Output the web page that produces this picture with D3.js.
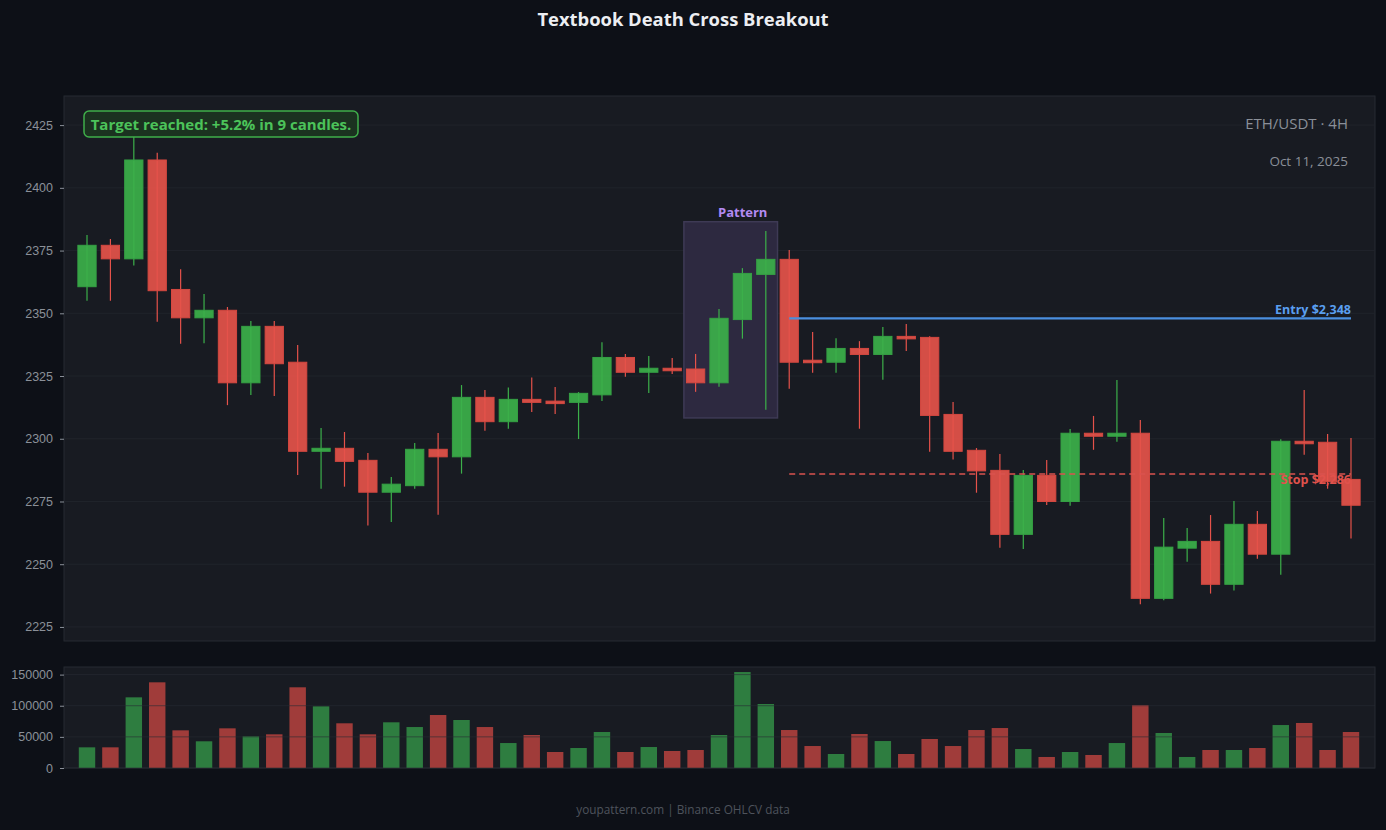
<!DOCTYPE html>
<html lang="en">
<head>
<meta charset="utf-8">
<title>Textbook Death Cross Breakout</title>
<script src="https://cdn.jsdelivr.net/npm/d3@7"></script>
<style>
  body { margin: 0; background: #0d1017; }
  svg { display: block; font-family: "Open Sans", "Noto Sans", sans-serif; }
  .axis text { fill: #8b9099; font-size: 12.5px; }
  .axis line { stroke: #8b9099; }
  .axis path { display: none; }
</style>
</head>
<body>
<script>
// OHLC
var opens  = [2360.6,2377.1,2371.7,2411.1,2359.5,2348.2,2351.2,2322.3,2344.8,2330.5,
              2295.0,2296.2,2291.4,2278.7,2281.3,2295.8,2292.8,2316.5,2306.8,2315.7,
              2315.0,2314.5,2317.5,2332.4,2326.5,2328.1,2327.8,2322.3,2347.5,2365.5,
              2371.5,2331.3,2330.5,2336.0,2333.6,2340.8,2340.4,2309.7,2295.4,2287.4,
              2261.9,2285.4,2275.0,2302.2,2301.0,2302.2,2236.4,2256.4,2259.1,2242.0,
              2265.9,2254.0,2299.0,2298.6,2283.8];
var highs  = [2381.2,2379.6,2423.0,2414.0,2367.6,2357.7,2352.5,2346.9,2346.9,2337.4,
              2304.3,2302.7,2294.3,2284.8,2298.3,2302.3,2321.4,2319.4,2320.4,2324.4,
              2320.6,2318.6,2338.5,2333.8,2333.0,2332.2,2333.8,2351.7,2368.0,2382.8,
              2375.2,2342.5,2340.1,2338.9,2344.5,2345.7,2340.9,2314.6,2296.3,2293.9,
              2287.5,2291.5,2303.9,2309.1,2323.4,2307.5,2268.4,2264.4,2269.6,2275.2,
              2271.2,2299.8,2319.4,2301.9,2300.3];
var lows   = [2355.0,2355.0,2369.0,2346.6,2337.9,2338.1,2313.4,2317.4,2317.0,2285.6,
              2280.1,2280.9,2265.4,2266.8,2280.1,2269.7,2286.1,2303.2,2304.0,2310.7,
              2309.9,2299.9,2315.0,2324.7,2318.2,2325.8,2318.7,2320.7,2339.9,2311.6,
              2319.9,2326.3,2326.3,2304.0,2323.5,2335.0,2294.8,2291.7,2278.5,2256.6,
              2256.1,2273.6,2273.3,2295.6,2298.8,2234.0,2235.6,2251.0,2238.3,2239.5,
              2252.2,2245.8,2293.6,2280.1,2260.2];
var closes = [2377.1,2371.7,2411.1,2359.0,2348.2,2351.2,2322.3,2344.8,2329.9,2295.0,
              2296.2,2291.0,2278.7,2281.9,2295.8,2292.8,2316.5,2306.8,2315.7,2314.5,
              2314.5,2318.1,2332.4,2326.5,2328.1,2327.1,2322.3,2348.0,2365.9,2371.5,
              2330.5,2330.5,2336.0,2333.6,2340.8,2340.1,2309.3,2295.0,2287.2,2261.9,
              2285.4,2275.0,2302.2,2301.0,2302.2,2236.4,2256.8,2259.1,2242.0,2265.9,
              2254.0,2299.0,2298.2,2282.9,2273.5];
var volumes = [33200,33200,113500,137600,60500,42900,63700,50900,54100,129600,
               99100,71800,54100,73400,65800,85100,77100,65800,40100,53000,
               25700,32100,57800,25700,33700,27300,28900,53000,154100,102800,
               61000,35300,22500,54600,43300,22500,46600,35300,61000,64200,
               30500,17700,25700,20900,40100,101200,56200,17700,28900,28900,
               32100,69000,72300,28900,57800];

var priceTicks = [2225,2250,2275,2300,2325,2350,2375,2400,2425];
var volumeTicks = [0,50000,100000,150000];

var entryPrice = 2348, stopPrice = 2286;
var entryFrom = 30;          // candle where entry/stop lines start
var patternFrom = 26, patternTo = 29;

var w = 1386, h = 830;
var left = 64, right = 1375;
var priceTop = 96, priceBottom = 641;
var volTop = 667, volBottom = 768;
var midX = 683;

var green = "#3cb04a", red = "#e5524a";

var candles = d3.range(opens.length).map(function(i) {
  return {i: i, o: opens[i], h: highs[i], l: lows[i], c: closes[i], v: volumes[i]};
});

var svg = d3.select("body").append("svg")
  .attr("width", w).attr("height", h);

svg.append("rect").attr("width", w).attr("height", h).attr("fill", "#0d1017");

var x = d3.scaleBand()
  .domain(d3.range(candles.length))
  .range([75.3, 1362.7])
  .paddingInner(0.22)
  .paddingOuter(0.11);
var cx = function(i) { return x(i) + x.bandwidth() / 2; };

var y = d3.scaleLinear().domain([2219.4, 2436.6]).range([priceBottom, priceTop]);
var yv = d3.scaleLinear().domain([0, 162200]).range([volBottom, volTop]);

// title
svg.append("text")
  .attr("x", midX).attr("y", 26)
  .attr("text-anchor", "middle")
  .attr("fill", "#eceef2")
  .attr("font-size", 18.4).attr("font-weight", "bold")
  .text("Textbook Death Cross Breakout");

// ---- price panel
svg.append("rect")
  .attr("x", left).attr("y", priceTop)
  .attr("width", right - left).attr("height", priceBottom - priceTop)
  .attr("fill", "#181b22").attr("stroke", "#262a32");

svg.append("g").selectAll("line")
  .data(priceTicks).enter().append("line")
  .attr("x1", left).attr("x2", right)
  .attr("y1", function(d) { return y(d); })
  .attr("y2", function(d) { return y(d); })
  .attr("stroke", "#20242b");

svg.append("g")
  .attr("class", "axis")
  .attr("transform", "translate(" + left + ",0)")
  .call(d3.axisLeft(y).tickValues(priceTicks).tickSize(4).tickPadding(7).tickFormat(d3.format("d")));

// pattern box
var pLo = d3.min(lows.slice(patternFrom, patternTo + 1)) - 3.3;
var pHi = d3.max(highs.slice(patternFrom, patternTo + 1)) + 3.7;
var step = x.step();
svg.append("rect")
  .attr("x", cx(patternFrom) - step / 2)
  .attr("y", y(pHi))
  .attr("width", cx(patternTo) - cx(patternFrom) + step)
  .attr("height", y(pLo) - y(pHi))
  .attr("fill", "#2d2940")
  .attr("stroke", "#3e3a55").attr("stroke-width", 1.5);
svg.append("text")
  .attr("x", (cx(patternFrom) + cx(patternTo)) / 2 + 12)
  .attr("y", y(pHi) - 5)
  .attr("text-anchor", "middle")
  .attr("fill", "#b38af2")
  .attr("font-size", 13).attr("font-weight", "bold")
  .text("Pattern");

// candles
var cg = svg.append("g").selectAll("g")
  .data(candles).enter().append("g");

cg.append("line")
  .attr("x1", function(d) { return cx(d.i); })
  .attr("x2", function(d) { return cx(d.i); })
  .attr("y1", function(d) { return y(d.h); })
  .attr("y2", function(d) { return y(d.l); })
  .attr("stroke", function(d) { return d.c >= d.o ? green : red; })
  .attr("stroke-width", 1.2);

cg.append("rect")
  .attr("x", function(d) { return x(d.i); })
  .attr("width", x.bandwidth())
  .attr("y", function(d) { return y(Math.max(d.o, d.c)); })
  .attr("height", function(d) { return Math.max(2.5, Math.abs(y(d.o) - y(d.c))); })
  .attr("fill", function(d) { return d.c >= d.o ? green : red; })
  .attr("fill-opacity", 0.92)
  .attr("stroke", function(d) { return d.c >= d.o ? "#35a044" : "#d44840"; })
  .attr("stroke-width", 1);

// entry & stop
svg.append("line")
  .attr("x1", cx(entryFrom)).attr("x2", cx(candles.length - 1))
  .attr("y1", y(entryPrice)).attr("y2", y(entryPrice))
  .attr("stroke", "#4a8fdf").attr("stroke-width", 2.2);
svg.append("text")
  .attr("x", cx(candles.length - 1)).attr("y", y(entryPrice) - 4)
  .attr("text-anchor", "end")
  .attr("fill", "#5a9ff0").attr("font-size", 12.5).attr("font-weight", "bold")
  .text("Entry $" + d3.format(",")(entryPrice));

svg.append("line")
  .attr("x1", cx(entryFrom)).attr("x2", cx(candles.length - 1))
  .attr("y1", y(stopPrice)).attr("y2", y(stopPrice))
  .attr("stroke", "#d9534f").attr("stroke-width", 1.5)
  .attr("stroke-dasharray", "6,4");
svg.append("text")
  .attr("x", cx(candles.length - 1)).attr("y", y(stopPrice) + 10.5)
  .attr("text-anchor", "end")
  .attr("fill", "#e0524c").attr("font-size", 12.5).attr("font-weight", "bold")
  .text("Stop $" + d3.format(",")(stopPrice));

// target annotation
svg.append("rect")
  .attr("x", 84).attr("y", 111).attr("width", 274).attr("height", 26)
  .attr("rx", 5)
  .attr("fill", "#1b3220").attr("stroke", "#3fae4a").attr("stroke-width", 1.5);
svg.append("text")
  .attr("x", 221).attr("y", 129.5)
  .attr("text-anchor", "middle")
  .attr("fill", "#4cc35a").attr("font-size", 15).attr("font-weight", "bold")
  .text("Target reached: +5.2% in 9 candles.");

// symbol & date
svg.append("text")
  .attr("x", 1348).attr("y", 129)
  .attr("text-anchor", "end")
  .attr("fill", "#8a8f98").attr("font-size", 15)
  .text("ETH/USDT · 4H");
svg.append("text")
  .attr("x", 1348).attr("y", 166)
  .attr("text-anchor", "end")
  .attr("fill", "#8a8f98").attr("font-size", 13.5)
  .text("Oct 11, 2025");

// ---- volume panel
svg.append("rect")
  .attr("x", left).attr("y", volTop)
  .attr("width", right - left).attr("height", volBottom - volTop)
  .attr("fill", "#181b22").attr("stroke", "#262a32");

var vw = x.bandwidth() * 0.9;
svg.append("g").selectAll("rect")
  .data(candles).enter().append("rect")
  .attr("x", function(d) { return cx(d.i) - vw / 2; })
  .attr("width", vw)
  .attr("y", function(d) { return yv(d.v); })
  .attr("height", function(d) { return yv(0) - yv(d.v); })
  .attr("fill", function(d) { return d.c >= d.o ? "#2e7d40" : "#a03c3a"; });

svg.append("g").selectAll("line")
  .data(volumeTicks).enter().append("line")
  .attr("x1", left).attr("x2", right)
  .attr("y1", function(d) { return yv(d); })
  .attr("y2", function(d) { return yv(d); })
  .attr("stroke", "rgba(40,44,52,0.6)");

svg.append("g")
  .attr("class", "axis")
  .attr("transform", "translate(" + left + ",0)")
  .call(d3.axisLeft(yv).tickValues(volumeTicks).tickSize(4).tickPadding(7).tickFormat(d3.format("d")));

// footer
svg.append("text")
  .attr("x", midX).attr("y", 814)
  .attr("text-anchor", "middle")
  .attr("fill", "#4e535c").attr("font-size", 11.8)
  .text("youpattern.com | Binance OHLCV data");
</script>
</body>
</html>
